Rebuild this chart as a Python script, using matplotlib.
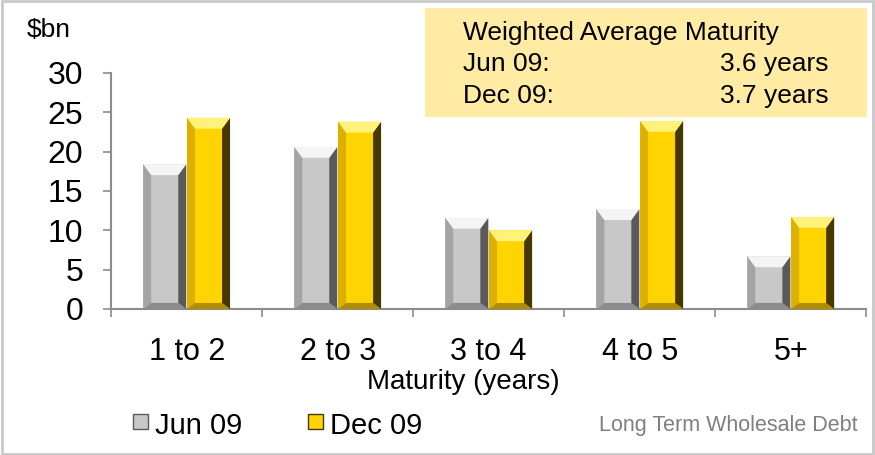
import matplotlib.pyplot as plt
from matplotlib.patches import Rectangle, Polygon

# ----------------- DATA -----------------
categories = ["1 to 2", "2 to 3", "3 to 4", "4 to 5", "5+"]
jun09 = [18.4, 20.6, 11.6, 12.7, 6.7]
dec09 = [24.3, 23.8, 10.0, 23.9, 11.7]
series_names = ["Jun 09", "Dec 09"]
wam_labels = ["Jun 09:", "Dec 09:"]
wam_values = ["3.6 years", "3.7 years"]

# ----------------- STYLE ----------------
plt.rcParams["font.family"] = ["Liberation Sans", "DejaVu Sans"]

GREY = dict(face="#C8C8C8", top="#F4F4F4", left="#A4A4A4", right="#5A5A5A", bottom="#8C8C8C")
GOLD = dict(face="#FFD400", top="#FFF27A", left="#DDB000", right="#463800", bottom="#B08C00")

BAR_W = 0.285
OFFSET = 0.145


def bevel_bar(ax, x, h, w, pal, bx, by_top, by_bot):
    """Draw one bar with a simple bevelled look (polygons derived from the bar)."""
    x0, x1 = x - w / 2, x + w / 2
    ax.add_patch(Rectangle((x0, 0), w, h, facecolor=pal["face"], edgecolor="none", zorder=2))
    bt = min(by_top, h / 2)
    bb = min(by_bot, h / 2)
    top = [(x0, h), (x1, h), (x1 - bx, h - bt), (x0 + bx, h - bt)]
    bottom = [(x0, 0), (x1, 0), (x1 - bx, bb), (x0 + bx, bb)]
    left = [(x0, 0), (x0, h), (x0 + bx, h - bt), (x0 + bx, bb)]
    right = [(x1, 0), (x1, h), (x1 - bx, h - bt), (x1 - bx, bb)]
    for pts, key in [(left, "left"), (bottom, "bottom"), (right, "right"), (top, "top")]:
        ax.add_patch(Polygon(pts, closed=True, facecolor=pal[key], edgecolor="none", zorder=3))


fig = plt.figure(figsize=(8.75, 4.55), dpi=100)
ax = fig.add_axes([0.127, 0.321, 0.863, 0.519])

ax.set_xlim(-0.5, len(categories) - 0.5)
ax.set_ylim(0, 30)

# bevel sizes in pixels converted to data units
bx = 8 / 151
for i in range(len(categories)):
    bevel_bar(ax, i - OFFSET, jun09[i], BAR_W, GREY, bx, 11 / 7.87, 6 / 7.87)
    bevel_bar(ax, i + OFFSET, dec09[i], BAR_W, GOLD, bx, 11 / 7.87, 6 / 7.87)

ax.spines["top"].set_visible(False)
ax.spines["right"].set_visible(False)
for s in ["left", "bottom"]:
    ax.spines[s].set_color("#8C8C8C")
    ax.spines[s].set_linewidth(1.5)

ax.set_yticks(range(0, 31, 5))
ax.tick_params(axis="y", labelsize=23, length=6, width=1.2, color="#8C8C8C", pad=14)
ax.set_xticks(range(len(categories)))
ax.set_xticklabels(categories, fontsize=22)
ax.tick_params(axis="x", which="major", length=0, pad=20)
ax.set_xticks([i - 0.5 for i in range(len(categories) + 1)], minor=True)
ax.tick_params(axis="x", which="minor", length=6, width=1.2, color="#8C8C8C")
ax.set_xlabel("Maturity (years)", fontsize=20)
ax.xaxis.set_label_coords(0.466, -0.255)

fig.text(0.031, 0.934, "$bn", fontsize=19, va="center", ha="left")

# weighted average maturity box
fig.patches.append(Rectangle((0.486, 0.743), 0.505, 0.239, transform=fig.transFigure,
                             facecolor="#FFEBA3", edgecolor="none", zorder=5))
fig.text(0.529, 0.927, "Weighted Average Maturity", fontsize=19, va="center", zorder=6)
for j, (lab, val) in enumerate(zip(wam_labels, wam_values)):
    y = 0.859 - j * 0.070
    fig.text(0.529, y, lab, fontsize=19, va="center", zorder=6)
    fig.text(0.947, y, val, fontsize=19, va="center", ha="right", zorder=6)

# legend
for k, (name, pal) in enumerate(zip(series_names, [GREY, GOLD])):
    x0 = 0.152 + k * 0.2
    fig.patches.append(Rectangle((x0, 0.058), 0.017, 0.032, transform=fig.transFigure,
                                 facecolor=pal["face"], edgecolor=pal["right"], linewidth=1))
    fig.text(x0 + 0.025, 0.064, name, fontsize=21, va="center", ha="left")

fig.text(0.98, 0.064, "Long Term Wholesale Debt", fontsize=15.5, color="#7F7F7F",
         va="center", ha="right")

# outer border
fig.patches.append(Rectangle((0.002, 0.003), 0.996, 0.994, transform=fig.transFigure,
                             facecolor="none", edgecolor="#C8C8C8", linewidth=2))

fig.savefig("out.png", dpi=100)
